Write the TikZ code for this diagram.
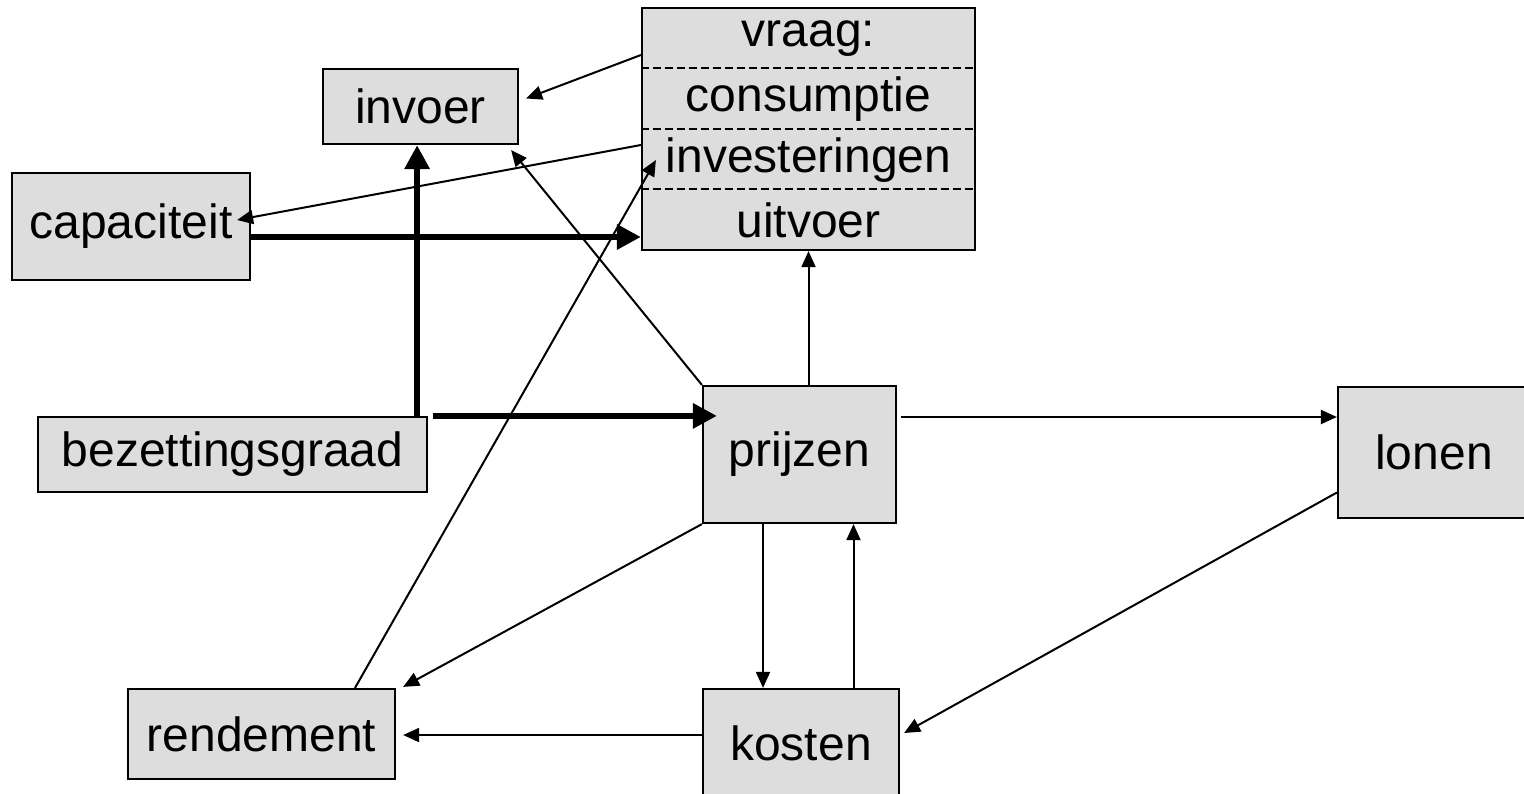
\documentclass[tikz,border=0pt]{standalone}
\usepackage{fontspec}
\setmainfont{Liberation Sans}
\usetikzlibrary{arrows.meta,calc}
\begin{document}
\begin{tikzpicture}[x=0.5pt,y=-0.5pt,
  every node/.style={font=\fontsize{24}{28}\selectfont},
  box/.style={draw=black,line width=1.1pt,fill=boxgray,rectangle,inner sep=0pt,anchor=center},
  rowtext/.style={inner sep=0pt,anchor=center},
  thin/.style={line width=1pt,-{Triangle[length=8pt,width=7pt]}},
  thick/.style={line width=3pt,-{Triangle[length=12pt,width=12pt]}},
  sep/.style={line width=0.7pt,dash pattern=on 4pt off 2pt}]
\definecolor{boxgray}{HTML}{DDDDDD}
\useasboundingbox (0,0) rectangle (1524,793);
% boxes
\node[box,minimum width=166.5pt,minimum height=121pt] (vraag) at (808.5,129) {};
\node[rowtext] (r1) at (808.5,38.5) {vraag:};
\node[rowtext] (r2) at (808.5,99.5) {consumptie};
\node[rowtext] (r3) at (808.5,160) {investeringen};
\node[rowtext] (r4) at (808.5,220) {uitvoer};
\draw[sep] ($(vraag.north west)+(0,61)$) -- ($(vraag.north east)+(0,61)$);
\draw[sep] ($(vraag.north west)+(0,122)$) -- ($(vraag.north east)+(0,122)$);
\draw[sep] ($(vraag.north west)+(0,182)$) -- ($(vraag.north east)+(0,182)$);
\node[box,minimum width=97.5pt,minimum height=37.5pt] (invoer) at (420.5,106.5) {invoer};
\node[box,minimum width=119pt,minimum height=53.5pt] (cap) at (131,226.5) {capaciteit};
\node[box,minimum width=194.5pt,minimum height=37.5pt] (bez) at (232.5,454.5) {bezettingsgraad};
\node[box,minimum width=96.5pt,minimum height=68.5pt] (prijzen) at (799.5,454.5) {prijzen};
\node[box,minimum width=96pt,minimum height=65.5pt] (lonen) at (1434,452.5) {lonen};
\node[box,minimum width=133.5pt,minimum height=45pt] (rend) at (261.5,734) {rendement};
\node[box,minimum width=98pt,minimum height=54pt] (kosten) at (801,743) {kosten};
% helper points for the thick connectors
\coordinate (capout) at ($(cap.east)+(0,10.5)$);
\coordinate (bzup) at ($(bez.north east)+(-11,0)$);
\coordinate (bzright) at ($(bez.north east)+(5,0)$);
% connectors
\draw[thin] ($(vraag.west)+(0,-74)$) -- ($(invoer.east)+(7,-8)$);
\draw[thin] ($(vraag.west)+(0,16)$) -- ($(cap.east)+(-14,-6.5)$);
\draw[thick] (capout) -- (capout -| vraag.west);
\draw[thick] (bzup) -- (bzup |- invoer.south);
\draw[thick] (bzright) -- ($(bzright -| prijzen.west)+(15,0)$);
\draw[thin] (prijzen.north west) -- ($(invoer.south east)+(-8,5)$);
\draw[thin] ($(rend.north)+(93.5,0)$) -- ($(vraag.west)+(15,31)$);
\draw[thin] (vraag.south |- prijzen.north) -- (vraag.south);
\draw[thin] ($(prijzen.east)+(4,-37.5)$) -- ($(lonen.west)+(0,-35.5)$);
\draw[thin] ($(lonen.west)+(0,40)$) -- ($(kosten.east)+(4,-10)$);
\draw[thin] (prijzen.south west) -- ($(rend.north east)+(7,-1)$);
\draw[thin] ($(prijzen.south)+(-36.5,0)$) -- ($(kosten.north)+(-38,0)$);
\draw[thin] ($(kosten.north)+(52.5,0)$) -- ($(prijzen.south)+(54,0)$);
\draw[thin] ($(kosten.west)+(0,-8)$) -- ($(rend.east)+(7,1)$);
\end{tikzpicture}
\end{document}
